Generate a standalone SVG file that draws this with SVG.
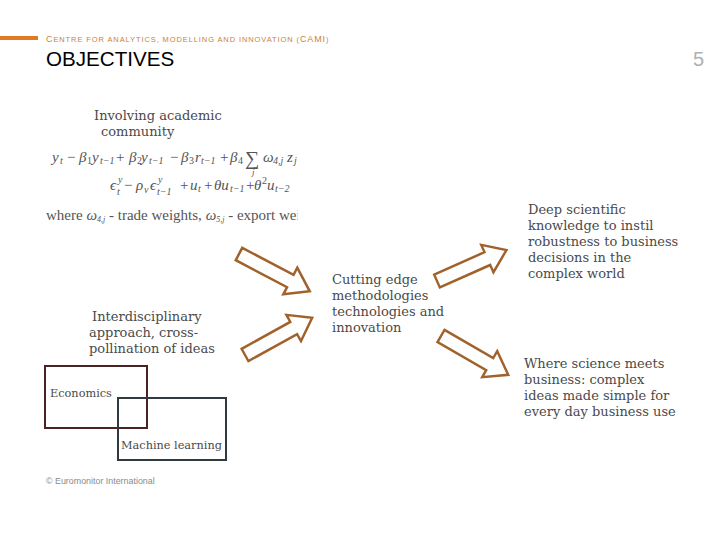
<svg xmlns="http://www.w3.org/2000/svg" width="720" height="540" viewBox="0 0 720 540">
<style>
.hdr{font-family:"Liberation Sans",Arial,sans-serif;font-size:9px;fill:#c8823e;letter-spacing:0.9px}
.title{font-family:"Liberation Sans",Arial,sans-serif;font-size:20.6px;fill:#000}
.pg{font-family:"Liberation Sans",Arial,sans-serif;font-size:20px;fill:#b0b0b0}
.t{font-family:"DejaVu Serif","Liberation Serif",serif;font-size:13px;fill:#4a4a4a}
.b{font-family:"DejaVu Serif","Liberation Serif",serif;font-size:11.3px;fill:#4a4a4a}
.f{font-family:"Liberation Serif","DejaVu Serif",serif;font-size:15px;fill:#555;font-style:italic}
.s{font-size:10px}
.n{font-style:normal}
.foot{font-family:"Liberation Sans",Arial,sans-serif;font-size:8.9px;fill:#8a8a8a}
.arrow{fill:#fff;stroke:#a0622a;stroke-width:2.5;stroke-linejoin:miter}
</style>
<defs>
<clipPath id="fclip"><rect x="40" y="140" width="258" height="90"/></clipPath>
<polygon id="arr" points="0,-7 58,-7 58,-15 80,0 58,15 58,7 0,7"/>
</defs>
<rect width="720" height="540" fill="#fff"/>
<g id="header">
<rect x="0" y="36" width="38" height="4" fill="#e07a24"/>
<text class="hdr" x="46" y="42">C<tspan font-size="7.5">ENTRE FOR ANALYTICS, MODELLING AND INNOVATION (</tspan>CAMI<tspan font-size="7.5">)</tspan></text>
<text class="title" x="46" y="66">OBJECTIVES</text>
<text class="pg" x="693" y="66">5</text>
</g>
<g id="academic">
<text class="t" x="94" y="120">Involving academic</text>
<text class="t" x="101" y="136">community</text>
<g clip-path="url(#fclip)">
<text class="f"><tspan x="52" y="162">y</tspan><tspan class="s" x="60" y="164">t</tspan><tspan class="n" x="67" y="162">−</tspan><tspan x="79" y="162">β</tspan><tspan class="s n" x="87" y="164">1</tspan><tspan x="92" y="162">y</tspan><tspan class="s" x="100" y="164">t−1</tspan><tspan class="n" x="116" y="162">+</tspan><tspan x="129" y="162">β</tspan><tspan class="s n" x="137" y="164">2</tspan><tspan x="141" y="162">y</tspan><tspan class="s" x="149" y="164">t−1</tspan><tspan class="n" x="170" y="162">−</tspan><tspan x="181" y="162">β</tspan><tspan class="s n" x="189" y="164">3</tspan><tspan x="195" y="162">r</tspan><tspan class="s" x="201" y="164">t−1</tspan><tspan class="n" x="220" y="162">+</tspan><tspan x="230" y="162">β</tspan><tspan class="s n" x="238" y="164">4</tspan><tspan class="n" font-size="20" x="245" y="165">∑</tspan><tspan font-size="9" x="252" y="175">j</tspan><tspan x="263" y="162">ω</tspan><tspan class="s" x="273" y="164">4,j</tspan><tspan x="287" y="162">z</tspan><tspan class="s" x="294" y="164">j</tspan></text>
<text class="f"><tspan x="110" y="190">ϵ</tspan><tspan class="s" x="118" y="183">y</tspan><tspan class="s" x="117" y="195">t</tspan><tspan class="n" x="124" y="190">−</tspan><tspan x="136" y="190">ρ</tspan><tspan class="s" x="144" y="193">v</tspan><tspan x="150" y="190">ϵ</tspan><tspan class="s" x="158" y="183">y</tspan><tspan class="s" x="157" y="195">t−1</tspan><tspan class="n" x="180" y="190">+</tspan><tspan x="190" y="190">u</tspan><tspan class="s" x="198" y="192">t</tspan><tspan class="n" x="204" y="190">+</tspan><tspan x="214" y="190">θu</tspan><tspan class="s" x="230" y="192">t−1</tspan><tspan class="n" x="246" y="190">+</tspan><tspan x="254" y="190">θ</tspan><tspan class="s n" x="262" y="184">2</tspan><tspan x="267" y="190">u</tspan><tspan class="s" x="275" y="192">t−2</tspan></text>
<text class="f" font-size="13.6" x="46" y="220"><tspan class="n">where </tspan>ω<tspan font-size="8" dy="2">4,j</tspan><tspan class="n" dy="-2"> - trade weights, </tspan>ω<tspan font-size="8" dy="2">5,j</tspan><tspan class="n" dy="-2"> - export weights</tspan></text>
</g>
</g>
<g id="interdisciplinary">
<text class="t" x="92" y="321">Interdisciplinary</text>
<text class="t" x="89" y="337">approach, cross-</text>
<text class="t" x="89" y="353">pollination of ideas</text>
</g>
<g id="economics">
<rect x="45" y="366" width="102" height="62" fill="none" stroke="#4a2424" stroke-width="2"/>
<text class="b" x="50" y="397">Economics</text>
</g>
<g id="machine-learning">
<rect x="118" y="398" width="108" height="62" fill="none" stroke="#2f3a3e" stroke-width="2"/>
<text class="b" x="121" y="449">Machine learning</text>
</g>
<g id="cutting-edge">
<text class="t" x="332" y="284">Cutting edge</text>
<text class="t" x="332" y="300">methodologies</text>
<text class="t" x="332" y="316">technologies and</text>
<text class="t" x="332" y="332">innovation</text>
</g>
<g id="deep-scientific">
<text class="t" x="528" y="214">Deep scientific</text>
<text class="t" x="528" y="230">knowledge to instil</text>
<text class="t" x="528" y="246">robustness to business</text>
<text class="t" x="528" y="262">decisions in the</text>
<text class="t" x="528" y="278">complex world</text>
</g>
<g id="science-business">
<text class="t" x="524" y="368">Where science meets</text>
<text class="t" x="524" y="384">business: complex</text>
<text class="t" x="524" y="400">ideas made simple for</text>
<text class="t" x="524" y="416">every day business use</text>
</g>
<g id="connectors">
<use href="#arr" class="arrow" transform="translate(239,254) rotate(27.8)"/>
<use href="#arr" class="arrow" transform="translate(245,355) rotate(-29) scale(0.96,1)"/>
<use href="#arr" class="arrow" transform="translate(437,281) rotate(-24) scale(0.95,1)"/>
<use href="#arr" class="arrow" transform="translate(441,336) rotate(30) scale(0.97,1)"/>
</g>
<text class="foot" x="46" y="484">© Euromonitor International</text>
</svg>
